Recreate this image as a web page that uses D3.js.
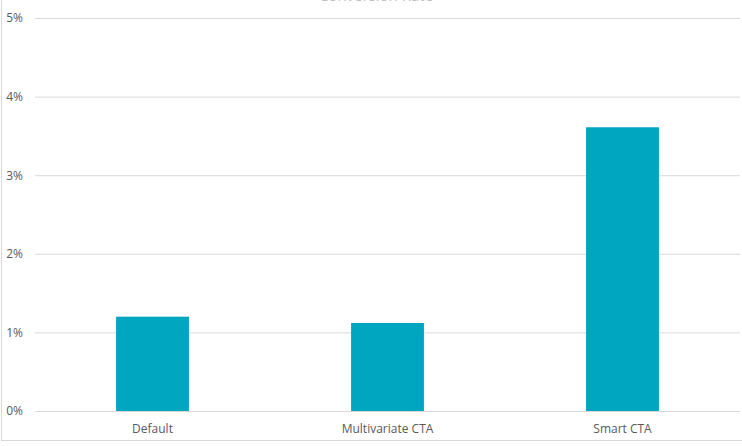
<!DOCTYPE html>
<html>
<head>
<meta charset="utf-8">
<script src="https://cdn.jsdelivr.net/npm/d3@7"></script>
<style>
  body { margin: 0; background: #fff; }
  text { font-family: "Open Sans", sans-serif; }
</style>
</head>
<body>
<svg id="chart"></svg>
<script>
let categories = ['Default', 'Multivariate CTA', 'Smart CTA']
let values = [0.0120, 0.0112, 0.0361] // conversion rate
let yTicks = [0, 0.01, 0.02, 0.03, 0.04, 0.05]
let title = 'Conversion Rate'

let width = 742
let height = 446
let plotLeft = 35
let plotRight = 740
let plotTop = 18
let plotBottom = 411

let svg = d3.select('#chart')
    .attr('width', width)
    .attr('height', height)

// chart frame (only left + bottom edges show in the crop)
svg.append('line')
    .attr('x1', 1.5).attr('x2', 1.5).attr('y1', 0).attr('y2', 441)
    .attr('stroke', '#d9d9d9')
svg.append('line')
    .attr('x1', 1).attr('x2', width).attr('y1', 440.5).attr('y2', 440.5)
    .attr('stroke', '#d9d9d9')

let xScale = d3.scaleBand()
    .domain(categories)
    .range([plotLeft, plotRight])
    .paddingInner(0.69)
    .paddingOuter(0.345)

let yScale = d3.scaleLinear()
    .domain([0, 0.05])
    .range([plotBottom, plotTop])

// gridlines + y labels
let yAxis = d3.axisLeft(yScale)
    .tickValues(yTicks)
    .tickFormat(d3.format('.0%'))
    .tickSize(-(plotRight - plotLeft))
    .tickPadding(12)
let gy = svg.append('g')
    .attr('transform', `translate(${plotLeft}, 0)`)
    .call(yAxis)
gy.select('.domain').remove()
gy.selectAll('.tick line').attr('stroke', '#d9d9d9').attr('stroke-width', 1)
gy.selectAll('.tick text')
    .attr('fill', '#595959')
    .style('font-size', '12px')

svg.selectAll('rect.bar')
    .data(values)
    .enter()
    .append('rect')
    .attr('class', 'bar')
    .attr('x', (d, i) => xScale(categories[i]))
    .attr('width', xScale.bandwidth())
    .attr('y', d => yScale(d))
    .attr('height', d => yScale(0) - yScale(d))
    .attr('fill', '#00a5c0')

let xAxis = d3.axisBottom(xScale).tickSize(0).tickPadding(13)
let gx = svg.append('g')
    .attr('transform', `translate(0, ${plotBottom})`)
    .call(xAxis)
gx.select('.domain').remove()
gx.selectAll('.tick text')
    .attr('fill', '#595959')
    .style('font-size', '12px')

// title, mostly cut off at the top edge
svg.append('text')
    .attr('x', 376)
    .attr('y', 1)
    .attr('text-anchor', 'middle')
    .attr('fill', '#bfbfbf')
    .style('font-size', '15px')
    .text(title)
</script>
</body>
</html>
